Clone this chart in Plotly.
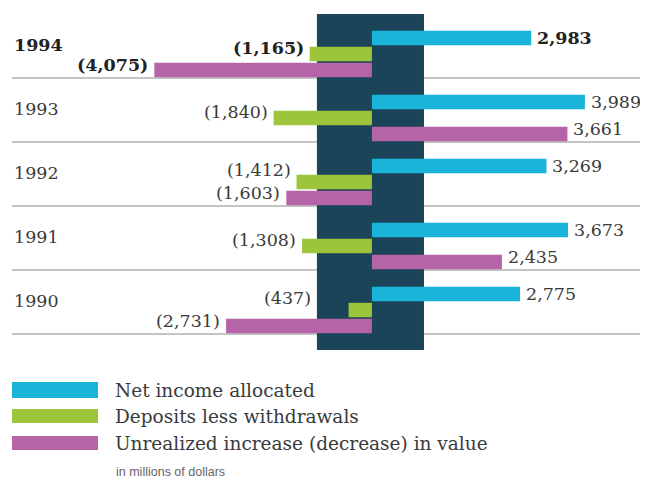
import plotly.graph_objects as go

# values in millions of dollars
years = [1994, 1993, 1992, 1991, 1990]
net_income = [2983, 3989, 3269, 3673, 2775]
deposits = [-1165, -1840, -1412, -1308, -437]
unrealized = [-4075, 3661, -1603, 2435, -2731]

series_names = [
    "Net income allocated",
    "Deposits less withdrawals",
    "Unrealized increase (decrease) in value",
]
series_colors = ["#1AB4D9", "#9CC53C", "#B664A8"]
label_lift = [0, 6, 5]          # small upward nudge of value labels per series
NAVY = "#1B4459"
TEXT = "#3A3A3A"
SERIF = "DejaVu Serif"
PANEL_X = (-1030, 975)          # navy panel extent around zero

# the page body has an 8px margin, so the figure sits at (8, 8)
OFF = 8
W, H = 648 - OFF, 482 - OFF
M_L, M_T, M_B = 12 - OFF, 14 - OFF, 132
PLOT_W = W - M_L
PLOT_H = H - M_T - M_B
SLOT = 4  # slots per year band: empty, cyan, green, magenta


def paper_y(px):
    return (H - M_B - (px - OFF)) / PLOT_H


def paper_x(px):
    return (px - OFF - M_L) / PLOT_W


def fmt(v):
    s = f"{abs(v):,}"
    return f"({s})" if v < 0 else s


fig = go.Figure()

# separator lines between years (behind the navy panel)
for i in range(len(years)):
    fig.add_shape(type="line", xref="paper", x0=0, x1=1, yref="y",
                  y0=SLOT * i + 4, y1=SLOT * i + 4,
                  line=dict(color="#8A8A8A", width=1), layer="below")

fig.add_shape(type="rect", xref="x", yref="y", x0=PANEL_X[0], x1=PANEL_X[1],
              y0=0, y1=21, fillcolor=NAVY, line=dict(width=0), layer="below")

all_series = [net_income, deposits, unrealized]
for k, vals in enumerate(all_series):
    ys = [SLOT * i + 1.5 + k for i in range(len(years))]
    fig.add_trace(go.Bar(
        x=vals, y=ys, orientation="h", width=0.9,
        marker=dict(color=series_colors[k], line=dict(width=0)),
        name=series_names[k],
        hovertemplate="%{x:,}<extra></extra>",
    ))
    for i, (v, y) in enumerate(zip(vals, ys)):
        txt = fmt(v)
        if i == 0:
            txt = f"<b>{txt}</b>"
        lift = label_lift[k]
        # raise a label when the one below it sits on the same side too
        if k == 1 and v < 0 and all_series[2][i] < 0 and i != 0:
            lift += 6
        fig.add_annotation(
            x=v if v > 0 else min(v, PANEL_X[0]), y=y, text=txt, showarrow=False,
            xanchor="left" if v > 0 else "right",
            xshift=4 if v > 0 else -4, yshift=lift,
            font=dict(family=SERIF, size=17.5, color="#222" if i == 0 else TEXT),
        )

# year labels
for i, yr in enumerate(years):
    txt = f"<b>{yr}</b>" if i == 0 else str(yr)
    fig.add_annotation(
        xref="paper", x=0, xanchor="left", yref="y", y=SLOT * i + 1.95,
        text=txt, showarrow=False,
        font=dict(family=SERIF, size=17.5, color="#222" if i == 0 else TEXT),
    )

# legend drawn by hand: wide swatches with text
legend_rows = [(382, 398), (409, 423), (436, 450)]
for (top, bot), name, color in zip(legend_rows, series_names, series_colors):
    fig.add_shape(type="rect", xref="paper", yref="paper",
                  x0=paper_x(12), x1=paper_x(98), y0=paper_y(bot), y1=paper_y(top),
                  fillcolor=color, line=dict(width=0))
    fig.add_annotation(
        xref="paper", yref="paper", x=paper_x(113), y=paper_y((top + bot) / 2),
        xanchor="left", yanchor="middle", text=name, showarrow=False,
        font=dict(family=SERIF, size=18.5, color=TEXT),
    )

fig.add_annotation(
    xref="paper", yref="paper", x=paper_x(114), y=paper_y(472),
    xanchor="left", yanchor="middle", text="in millions of dollars",
    showarrow=False, font=dict(family="Liberation Sans", size=12.5, color="#666"),
)

fig.update_layout(
    width=W, height=H,
    barmode="overlay",
    showlegend=False,
    plot_bgcolor="white",
    paper_bgcolor="white",
    margin=dict(l=M_L, r=0, t=M_T, b=M_B),
    xaxis=dict(range=[-6740, 5170], visible=False, fixedrange=True),
    yaxis=dict(range=[21, 0], visible=False, fixedrange=True),
)

fig.write_html("out.html")
